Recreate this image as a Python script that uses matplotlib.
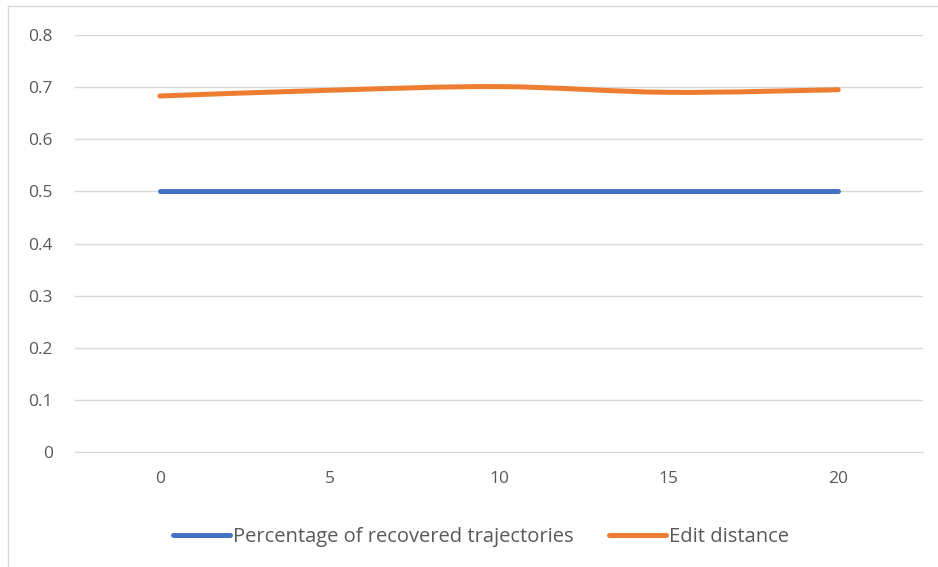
import matplotlib
matplotlib.use("Agg")
import matplotlib.pyplot as plt
from matplotlib.path import Path
from matplotlib.patches import PathPatch
from matplotlib.lines import Line2D
import numpy as np

plt.rcParams['font.family'] = ['Open Sans', 'DejaVu Sans']

# Datos
categories = ["0", "5", "10", "15", "20"]
recovered = [0.5, 0.5, 0.5, 0.5, 0.5]
edit_distance = [0.683, 0.694, 0.701, 0.690, 0.695]
y_ticks = [0, 0.1, 0.2, 0.3, 0.4, 0.5, 0.6, 0.7, 0.8]

BLUE = "#4472C4"
ORANGE = "#ED7D31"
GRID = "#D9D9D9"
TEXT = "#595959"


def smooth_path(xs, ys, tension=1 / 6):
    # curva suavizada tipo Excel (Catmull-Rom -> Bezier cubica)
    pts = list(zip(xs, ys))
    verts = [pts[0]]
    codes = [Path.MOVETO]
    n = len(pts)
    for i in range(n - 1):
        p0 = pts[i - 1] if i > 0 else pts[i]
        p1 = pts[i]
        p2 = pts[i + 1]
        p3 = pts[i + 2] if i + 2 < n else pts[i + 1]
        c1 = (p1[0] + (p2[0] - p0[0]) * tension, p1[1] + (p2[1] - p0[1]) * tension)
        c2 = (p2[0] - (p3[0] - p1[0]) * tension, p2[1] - (p3[1] - p1[1]) * tension)
        verts += [c1, c2, p2]
        codes += [Path.CURVE4] * 3
    return Path(verts, codes)


fig = plt.figure(figsize=(9.38, 5.67), dpi=100)
ax = fig.add_axes([75 / 938, 115 / 567, 848 / 938, 417 / 567])

x = np.arange(len(categories))
ax.plot(x, recovered, color=BLUE, lw=3.6, solid_capstyle="round", zorder=3)
ax.add_patch(PathPatch(smooth_path(x, edit_distance), fill=False, edgecolor=ORANGE,
                       lw=3.6, capstyle="round", zorder=3))

ax.set_xlim(-0.5, len(categories) - 0.5)
ax.set_ylim(0, 0.8)
ax.set_xticks(x)
ax.set_xticklabels(categories)
ax.set_yticks(y_ticks)
ax.set_yticklabels([f"{v:g}" for v in y_ticks])
ax.yaxis.grid(True, color=GRID, lw=1)
ax.set_axisbelow(True)
for side in ["top", "right", "left"]:
    ax.spines[side].set_visible(False)
ax.spines["bottom"].set_color(GRID)
ax.tick_params(axis="both", length=0, colors=TEXT, labelsize=12.5)
ax.tick_params(axis="y", pad=16)
ax.tick_params(axis="x", pad=14)

handles = [Line2D([], [], color=BLUE, lw=3.6, solid_capstyle="round"),
           Line2D([], [], color=ORANGE, lw=3.6, solid_capstyle="round")]
leg = fig.legend(handles, ["Percentage of recovered trajectories", "Edit distance"],
                 loc="center", bbox_to_anchor=(481 / 938, 1 - 537 / 567), ncol=2,
                 frameon=False, fontsize=14.5, handlelength=2.8, handletextpad=0.15,
                 columnspacing=1.8)
for t in leg.get_texts():
    t.set_color(TEXT)

# borde del area del grafico
fig.add_artist(Line2D([8 / 938, 1.0], [1 - 6 / 567, 1 - 6 / 567], color=GRID, lw=1,
                      transform=fig.transFigure))
fig.add_artist(Line2D([8 / 938, 8 / 938], [0, 1 - 6 / 567], color=GRID, lw=1,
                      transform=fig.transFigure))

fig.savefig("out.png", dpi=100)
